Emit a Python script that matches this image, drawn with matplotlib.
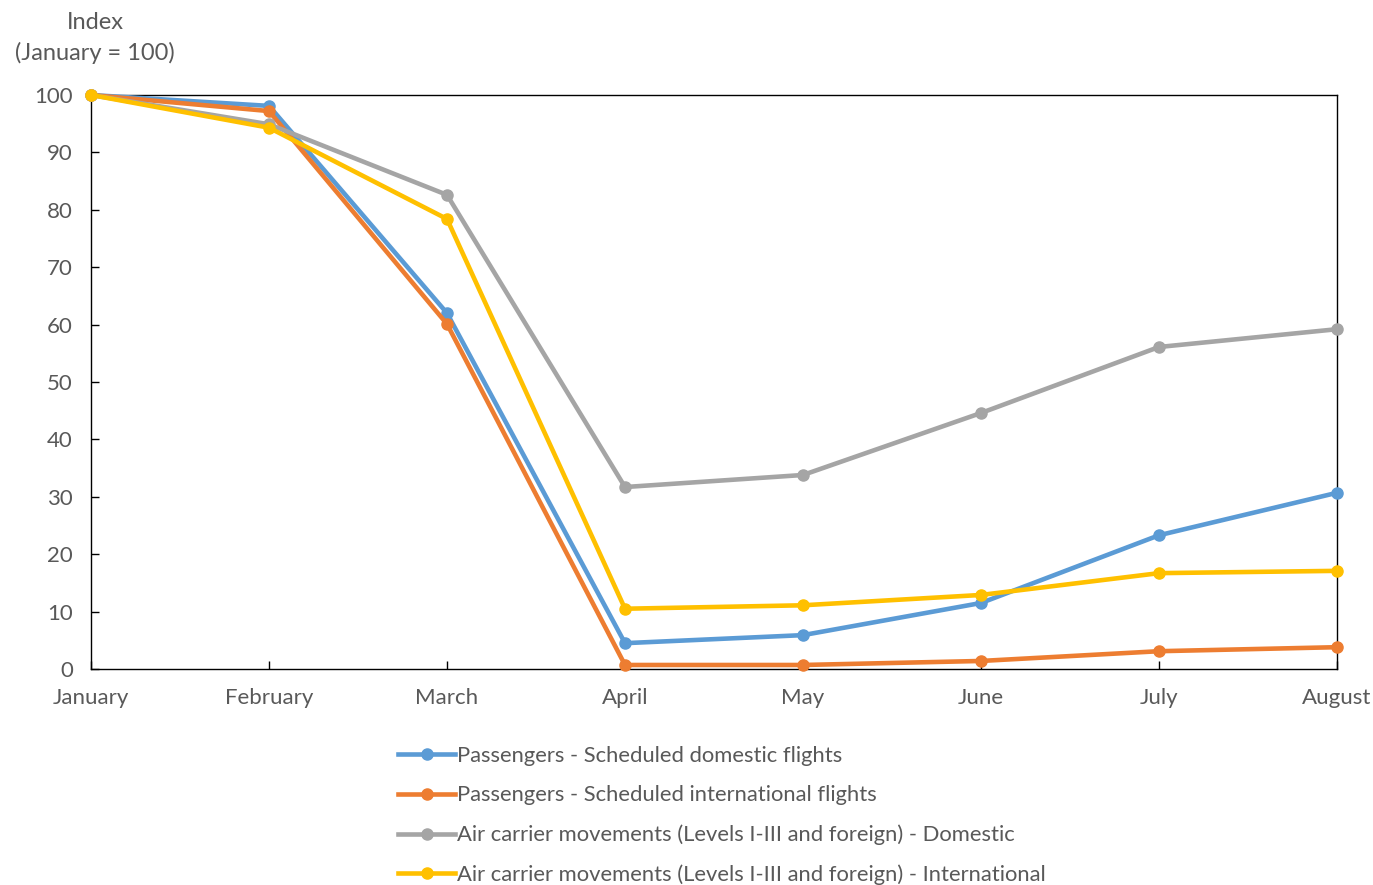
import matplotlib.pyplot as plt

# Index values (January = 100)
months = ['January', 'February', 'March', 'April', 'May', 'June', 'July', 'August']
pax_domestic = [100, 98.1, 62.0, 4.5, 5.9, 11.5, 23.3, 30.7]
pax_international = [100, 97.2, 60.1, 0.7, 0.7, 1.4, 3.1, 3.8]
moves_domestic = [100, 94.9, 82.6, 31.7, 33.8, 44.6, 56.1, 59.2]
moves_international = [100, 94.3, 78.4, 10.5, 11.1, 12.9, 16.7, 17.1]

labels = ['Passengers - Scheduled domestic flights',
          'Passengers - Scheduled international flights',
          'Air carrier movements (Levels I-III and foreign) - Domestic',
          'Air carrier movements (Levels I-III and foreign) - International']
colors = ['#5B9BD5', '#ED7D31', '#A5A5A5', '#FFC000']

plt.rcParams['font.family'] = ['Lato', 'DejaVu Sans']
text_color = '#595959'

fig = plt.figure(figsize=(13.73, 8.85), dpi=100)
ax = fig.add_axes([91 / 1373, 1 - 669 / 885, (1337 - 91) / 1373, (669 - 95) / 885])

x = range(len(months))
for series, lab, col in zip([pax_domestic, pax_international, moves_domestic, moves_international],
                            labels, colors):
    ax.plot(x, series, color=col, lw=3.3, marker='o', ms=8, label=lab,
            solid_joinstyle='round', clip_on=False, zorder=3)

ax.set_xlim(0, len(months) - 1)
ax.set_ylim(0, 100)
ax.set_yticks(range(0, 101, 10))
ax.set_xticks(list(x))
ax.set_xticklabels(months)
ax.tick_params(axis='both', direction='in', length=6, width=1, colors='black',
               labelcolor=text_color, labelsize=16)
ax.tick_params(axis='x', pad=14)
ax.tick_params(axis='y', pad=13)
for s in ax.spines.values():
    s.set_color('black')
    s.set_linewidth(1)

fig.text(95 / 1373, 1 - 38 / 885, 'Index\n(January = 100)', ha='center', va='center',
         fontsize=17, color=text_color, linespacing=1.45)

fig.legend(loc='upper left', bbox_to_anchor=(398 / 1373, 1 - 746 / 885), frameon=False,
           fontsize=15.8, labelcolor=text_color, handlelength=2.6, handletextpad=0.1,
           labelspacing=0.88, borderpad=0, borderaxespad=0)

fig.savefig('out.png', dpi=100)
